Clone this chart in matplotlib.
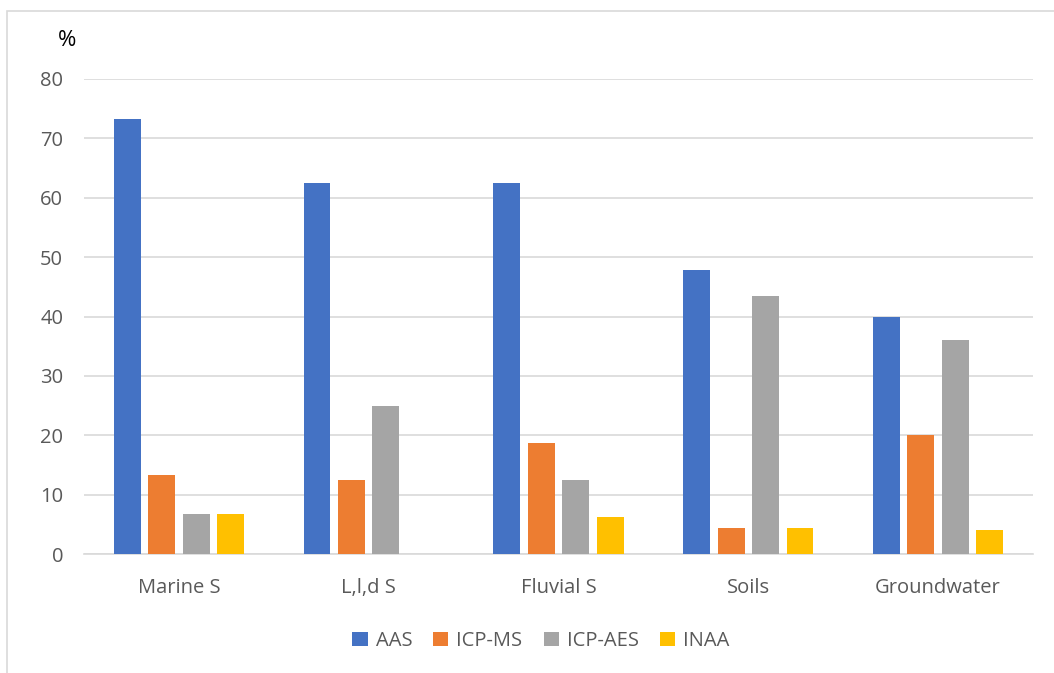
import matplotlib
matplotlib.use("Agg")
import matplotlib.pyplot as plt
from matplotlib.patches import Rectangle
import numpy as np

categories = ["Marine S", "L,l,d S", "Fluvial S", "Soils", "Groundwater"]
series_names = ["AAS", "ICP-MS", "ICP-AES", "INAA"]
aas = [73.3, 62.5, 62.5, 47.8, 40.0]
icp_ms = [13.3, 12.5, 18.75, 4.3, 20.0]
icp_aes = [6.7, 25.0, 12.5, 43.5, 36.0]
inaa = [6.7, 0.0, 6.25, 4.3, 4.0]
colors = ["#4472C4", "#ED7D31", "#A5A5A5", "#FFC000"]
yticks = [0, 10, 20, 30, 40, 50, 60, 70, 80]

plt.rcParams["font.family"] = ["Open Sans", "DejaVu Sans"]

W, H = 1054, 673
fig = plt.figure(figsize=(W / 100, H / 100), dpi=100)

# outer chart frame (right and bottom edges fall outside the canvas)
fig.patches.append(Rectangle((7 / W, -0.05), 1.1, (H - 11) / H + 0.05,
                             transform=fig.transFigure, fill=False,
                             edgecolor="#d9d9d9", linewidth=1.2))

left, right, top, bottom = 84, 1033, 79, 554
ax = fig.add_axes([left / W, (H - bottom) / H, (right - left) / W, (bottom - top) / H])

x = np.arange(len(categories))
step = 0.1816
width = 0.142
all_series = [aas, icp_ms, icp_aes, inaa]
for i, (name, vals, c) in enumerate(zip(series_names, all_series, colors)):
    ax.bar(x + (i - 1.5) * step, vals, width=width, color=c, label=name, zorder=3)

ax.set_xlim(-0.5, len(categories) - 0.5)
ax.set_ylim(0, 80)
ax.set_yticks(yticks)
ax.set_yticklabels([str(t) for t in yticks])
ax.set_xticks(x)
ax.set_xticklabels(categories)
ax.yaxis.grid(True, color="#d9d9d9", linewidth=1.2, zorder=0)
ax.set_axisbelow(True)
for s in ["top", "right", "left"]:
    ax.spines[s].set_visible(False)
ax.spines["bottom"].set_color("#d9d9d9")
ax.spines["bottom"].set_linewidth(1.2)
ax.tick_params(axis="both", length=0, labelsize=14.5, colors="#595959")
ax.tick_params(axis="y", pad=15)
ax.tick_params(axis="x", pad=17)

fig.text(67 / W, 1 - 40 / H, "%", fontsize=16, color="black", ha="center", va="center")

ax.legend(loc="center", bbox_to_anchor=(541 / W, 1 - 641 / H), bbox_transform=fig.transFigure,
          ncol=4, frameon=False, fontsize=14.5, handlelength=0.75, handleheight=0.75,
          handletextpad=0.4, columnspacing=1.05, labelcolor="#595959")

fig.savefig("out.png", dpi=100)
